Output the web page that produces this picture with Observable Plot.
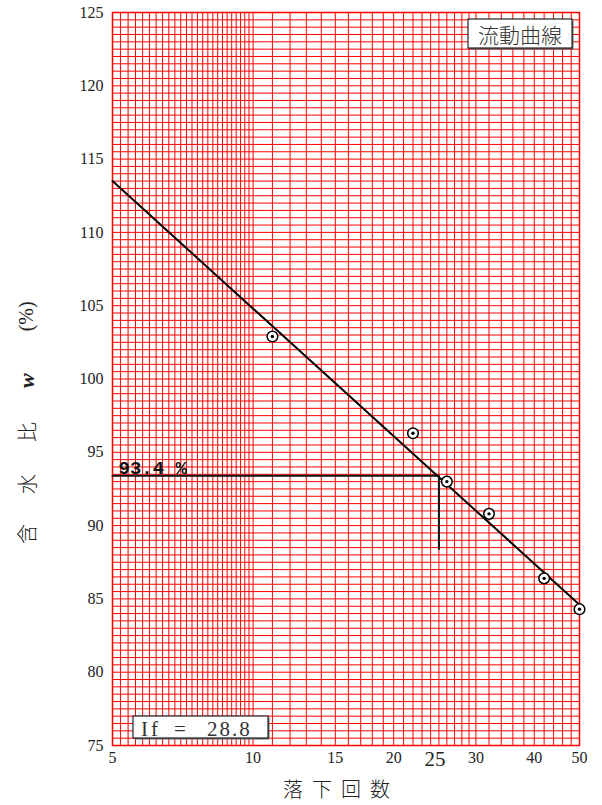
<!DOCTYPE html>
<html>
<head>
<meta charset="utf-8">
<script src="https://cdn.jsdelivr.net/npm/d3@7"></script>
<script src="https://cdn.jsdelivr.net/npm/@observablehq/plot@0.6"></script>
<style>
  html, body { margin: 0; padding: 0; background: white; }
  #chart svg { display: block; }
</style>
</head>
<body>
<div id="chart"></div>
<script>
// ---- data ----
const drops = [11, 22, 26, 32, 42, 50];               // 落下回数
const water = [102.9, 96.3, 93.0, 90.8, 86.4, 84.3];  // 含水比 w (%)
const fitN = [5, 50];                                 // flow curve end points
const fitW = [113.5, 84.6];
const guideN = [5, 25, 25];                           // 25-drop guide
const guideW = [93.4, 93.4, 88.4];
const liquidLimit = 93.4;
const flowIndex = 28.8;
const xTickValues = [5, 10, 15, 20, 30, 40, 50];
const xTickHighlight = [25];
const yTickValues = [75, 80, 85, 90, 95, 100, 105, 110, 115, 120, 125];
const titleText = "流動曲線";
const xLabelText = "落下回数";
const yLabelParts = ["含", "水", "比", "w", "(%)"];

// grid lines of the semi-log paper
const xGrid = [...d3.range(5, 9.99, 0.2), ...d3.range(10, 29.5, 1), ...d3.range(30, 50.5, 2)];
const yGrid = d3.range(75, 125.01, 0.5);

const points = drops.map((n, i) => ({n, w: water[i]}));
const fit = fitN.map((n, i) => ({n, w: fitW[i]}));
const guide = guideN.map((n, i) => ({n, w: guideW[i]}));

const serif = "'Liberation Serif', 'DejaVu Serif', serif";
const cjk = "'Noto Sans CJK JP', sans-serif";

const plot = Plot.plot({
  width: 602,
  height: 805,
  marginTop: 12,
  marginBottom: 60,
  marginLeft: 112,
  marginRight: 23,
  x: {type: "log", domain: [5, 50], axis: null},
  y: {domain: [75, 125], axis: null},
  style: {fontFamily: serif, fontSize: "16px", color: "#222", background: "white"},
  marks: [
    Plot.ruleX(xGrid, {x: d => d, stroke: "#ff0000", strokeWidth: 1}),
    Plot.ruleY(yGrid, {y: d => d, stroke: "#ff0000", strokeWidth: 1}),
    Plot.frame({stroke: "#ff0000", strokeWidth: 1.5}),
    Plot.line(fit, {x: "n", y: "w", stroke: "#000", strokeWidth: 2}),
    Plot.line(guide, {x: "n", y: "w", stroke: "#111", strokeWidth: 2}),
    Plot.dot(points, {x: "n", y: "w", r: 5.3, fill: "white", stroke: "#000", strokeWidth: 1.5}),
    Plot.dot(points, {x: "n", y: "w", r: 1.7, fill: "#000"}),
    Plot.text(xTickValues, {x: d => d, frameAnchor: "bottom", dy: 12, lineAnchor: "middle",
      fontSize: 16, fill: "#222"}),
    Plot.text(xTickHighlight, {x: d => d, frameAnchor: "bottom", dy: 14, dx: -4, lineAnchor: "middle",
      fontSize: 21, fill: "#222"}),
    Plot.text(yTickValues, {y: d => d, frameAnchor: "left", dx: -9, textAnchor: "end",
      fontSize: 16, fill: "#222"}),
    Plot.text([{n: guideN[0], w: liquidLimit}], {x: "n", y: "w", text: d => `${d.w} %`,
      textAnchor: "start", lineAnchor: "bottom", dx: 6, dy: -2,
      fontFamily: "'Liberation Mono', monospace", fontWeight: "bold", fontSize: 19, fill: "#111"})
  ]
});

document.getElementById("chart").appendChild(plot);
const svg = d3.select(plot);

// y axis label (rotated)
const yl = svg.append("text")
  .attr("transform", "translate(26,544) rotate(-90)")
  .attr("text-anchor", "start")
  .attr("dominant-baseline", "central")
  .attr("fill", "#222");
const dxs = [0, 30, 32, 34, 42];
yLabelParts.forEach((p, i) => {
  const t = yl.append("tspan").attr("dx", dxs[i]).text(p);
  if (i < 3) t.attr("font-family", cjk).attr("font-size", 20).attr("font-weight", 300);
  else if (i === 3) t.attr("font-family", serif).attr("font-size", 22).attr("font-weight", "bold").attr("font-style", "italic");
  else t.attr("font-family", serif).attr("font-size", 20);
});

// x axis label
svg.append("text")
  .attr("x", 341).attr("y", 797)
  .attr("text-anchor", "middle")
  .attr("font-family", cjk).attr("font-size", 20).attr("font-weight", 300)
  .attr("letter-spacing", "9px")
  .attr("fill", "#222")
  .text(xLabelText);

// title box
svg.append("rect").attr("x", 469.5).attr("y", 20.5).attr("width", 104).attr("height", 29).attr("fill", "#666");
svg.append("rect").attr("x", 468).attr("y", 19).attr("width", 104).attr("height", 29)
  .attr("fill", "white").attr("stroke", "#222").attr("stroke-width", 1.2);
svg.append("text").attr("x", 520).attr("y", 34)
  .attr("text-anchor", "middle").attr("dominant-baseline", "central")
  .attr("font-family", cjk).attr("font-size", 21).attr("font-weight", 300).attr("fill", "#333")
  .text(titleText);

// If box
svg.append("rect").attr("x", 134.5).attr("y", 717.5).attr("width", 135).attr("height", 22).attr("fill", "#666");
svg.append("rect").attr("x", 133).attr("y", 716).attr("width", 135).attr("height", 22)
  .attr("fill", "white").attr("stroke", "#222").attr("stroke-width", 1.2);
const ift = svg.append("text").attr("y", 736).attr("text-anchor", "start")
  .attr("font-family", serif).attr("font-size", 21).attr("fill", "#333");
ift.append("tspan").attr("x", 141).attr("letter-spacing", "3px").text("If");
ift.append("tspan").attr("x", 174).text("=");
ift.append("tspan").attr("x", 207).attr("letter-spacing", "2px").text(String(flowIndex));
</script>
</body>
</html>
